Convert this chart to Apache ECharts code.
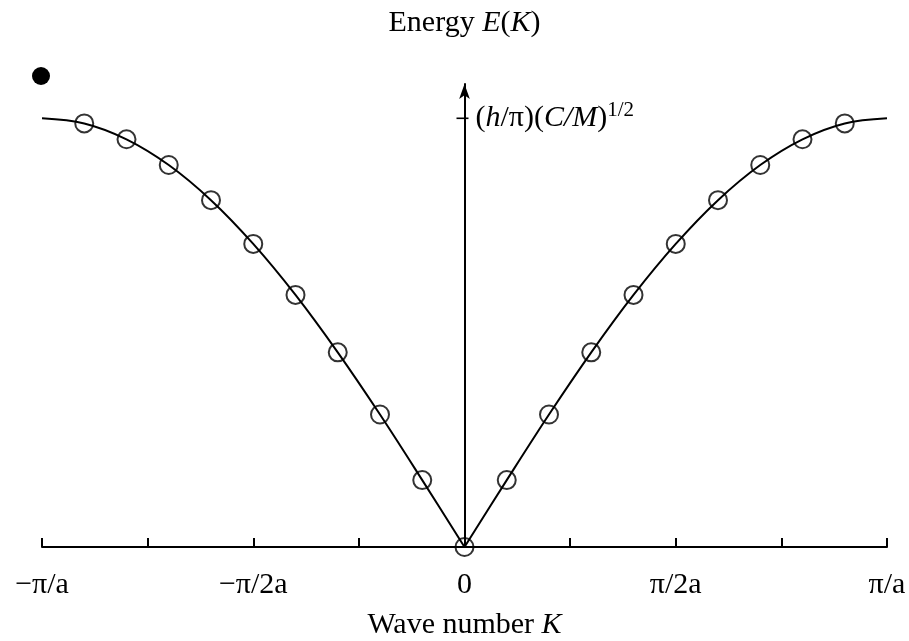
<!DOCTYPE html>
<html>
<head>
<meta charset="utf-8">
<title>Energy E(K)</title>
<script src="https://cdn.jsdelivr.net/npm/echarts@6.0.0/dist/echarts.min.js"></script>
<style>
html, body { margin: 0; padding: 0; background: #fff; }
#container { width: 909px; height: 641px; }
</style>
</head>
<body>
<div id="container"></div>
<script>
// wave number K in units of pi/a, energy in units of (h/pi)(C/M)^1/2
var kValues = [-1.0, -0.9, -0.8, -0.7, -0.6, -0.5, -0.4, -0.3, -0.2, -0.1, 0,
               0.1, 0.2, 0.3, 0.4, 0.5, 0.6, 0.7, 0.8, 0.9, 1.0];
var energy = [1.0, 0.988, 0.951, 0.891, 0.809, 0.707, 0.588, 0.454, 0.309, 0.156, 0,
              0.156, 0.309, 0.454, 0.588, 0.707, 0.809, 0.891, 0.951, 0.988, 1.0];
var xTickLabels = { '-1': '\u2212\u03c0/a', '-0.5': '\u2212\u03c0/2a', '0': '0', '0.5': '\u03c0/2a', '1': '\u03c0/a' };
var yTickValue = 1;

var serif = 'Liberation Serif';

var curveLeft = [], curveRight = [], markers = [];
for (var i = 0; i < kValues.length; i++) {
	if (kValues[i] <= 0) curveLeft.push([kValues[i], energy[i]]);
	if (kValues[i] >= 0) curveRight.push([kValues[i], energy[i]]);
	if (i > 0 && i < kValues.length - 1) markers.push([kValues[i], energy[i]]);
}

var dom = document.getElementById("container");
var myChart = echarts.init(dom);

var option = {
	backgroundColor: '#fff',
	animation: false,
	grid: {
		left: 42,
		right: 22,
		top: 84,
		bottom: 94,
		containLabel: false,
		outerBoundsMode: 'none'
	},
	xAxis: {
		type: 'value',
		min: -1,
		max: 1,
		interval: 0.25,
		name: 'Wave number {i|K}',
		nameLocation: 'middle',
		nameGap: 63,
		nameTextStyle: {
			fontFamily: serif,
			fontSize: 30,
			color: '#000',
			rich: { i: { fontFamily: serif, fontSize: 30, fontStyle: 'italic', color: '#000' } }
		},
		axisLine: { lineStyle: { color: '#000', width: 2 } },
		axisTick: { inside: true, length: 9, lineStyle: { color: '#000', width: 2 } },
		axisLabel: {
			customValues: [-1, -0.5, 0, 0.5, 1],
			showMinLabel: true,
			showMaxLabel: true,
			margin: 23,
			fontFamily: serif,
			fontSize: 30,
			color: '#000',
			formatter: function (v) { return xTickLabels[String(v)]; }
		},
		splitLine: { show: false }
	},
	yAxis: {
		type: 'value',
		min: 0,
		max: 1.08,
		name: '{n|Energy }{i|E}{n|(}{i|K}{n|)}',
		nameLocation: 'end',
		nameGap: 46,
		nameTextStyle: {
			rich: {
				n: { fontFamily: serif, fontSize: 30, color: '#000' },
				i: { fontFamily: serif, fontSize: 30, fontStyle: 'italic', color: '#000' }
			}
		},
		axisLine: {
			onZero: true,
			symbol: ['none', 'arrow'],
			symbolSize: [8, 15],
			lineStyle: { color: '#000', width: 2 }
		},
		axisTick: { show: false },
		axisLabel: { show: false },
		splitLine: { show: false }
	},
	graphic: [
		{ type: 'circle', shape: { cx: 41, cy: 76, r: 9 }, style: { fill: '#000' } }
	],
	series: [
		{
			name: 'left',
			type: 'line',
			data: curveLeft,
			smooth: 0.35,
			showSymbol: false,
			clip: false,
			lineStyle: { color: '#000', width: 2 }
		},
		{
			name: 'right',
			type: 'line',
			data: curveRight,
			smooth: 0.35,
			showSymbol: false,
			clip: false,
			lineStyle: { color: '#000', width: 2 },
			// tick and label of the energy scale at E = 1
			markPoint: {
				silent: true,
				data: [{ coord: [0, yTickValue] }],
				symbol: 'rect',
				symbolSize: [12, 1.6],
				symbolOffset: [-2, 0],
				itemStyle: { color: '#000' },
				label: {
					show: true,
					position: 'right',
					distance: 7,
					formatter: '{n|(}{i|h}{n|/\u03c0)(}{i|C/M}{n|)}{s|1/2}',
					rich: {
						n: { fontFamily: serif, fontSize: 30, lineHeight: 36, color: '#000' },
						i: { fontFamily: serif, fontSize: 30, lineHeight: 36, fontStyle: 'italic', color: '#000' },
						s: { fontFamily: serif, fontSize: 21, lineHeight: 20, verticalAlign: 'top', color: '#000' }
					}
				}
			}
		},
		{
			name: 'points',
			type: 'scatter',
			data: markers,
			symbol: 'circle',
			symbolSize: 18,
			clip: false,
			itemStyle: { color: 'rgba(0,0,0,0)', borderColor: '#000', borderWidth: 2 }
		}
	]
};

myChart.setOption(option);
</script>
</body>
</html>
